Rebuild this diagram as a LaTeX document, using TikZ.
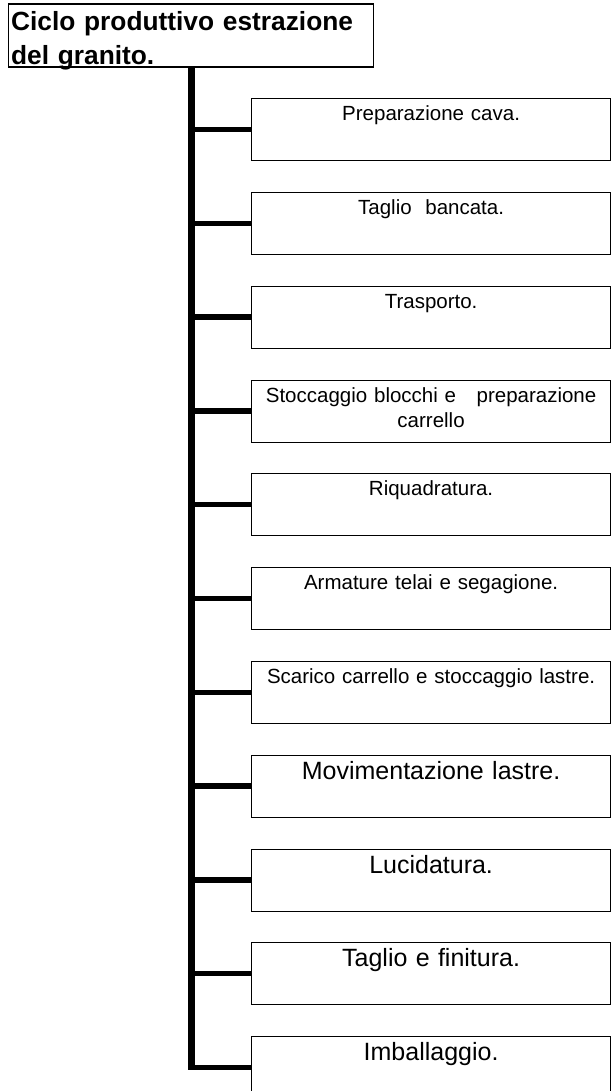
\documentclass[tikz,border=0pt]{standalone}
\usepackage{fontspec}
\setmainfont{Liberation Sans}

\begin{document}
\begin{tikzpicture}[x=1pt,y=-1pt,
  titolo/.style={draw,line width=1.2pt,anchor=north west,inner xsep=2.5pt,inner ysep=0pt,
    text width=360pt,align=left,text height=26pt,text depth=37pt,
    font=\bfseries\fontsize{26.3}{34}\selectfont},
  fase/.style={draw,line width=1.2pt,anchor=north west,inner xsep=2pt,inner ysep=0pt,
    text width=355pt,align=center,text height=22pt,text depth=40pt,
    font=\fontsize{20.5}{25}\selectfont},
  fasegrande/.style={fase,text height=24pt,text depth=38pt,font=\fontsize{25}{30}\selectfont},
  tronco/.style={line width=7pt},
  ramo/.style={line width=5.5pt}]
\useasboundingbox (0,0) rectangle (611,1091);

\node[titolo] (ciclo) at (8,3.5) {Ciclo produttivo estrazione\\del granito.};

\node[fase] (prep) at (251,98) {Preparazione cava.};
\node[fase] (taglio) at (251,192) {Taglio\ \ bancata.};
\node[fase] (trasp) at (251,285.5) {Trasporto.};
\node[fase] (stocc) at (251,379.5) {Stoccaggio blocchi e\ \ \ preparazione\\carrello};
\node[fase] (riquad) at (251,473) {Riquadratura.};
\node[fase] (armat) at (251,567) {Armature telai e segagione.};
\node[fase] (scarico) at (251,661) {Scarico carrello e stoccaggio lastre.};
\node[fasegrande] (movim) at (251,754.5) {Movimentazione lastre.};
\node[fasegrande] (lucid) at (251,848.5) {Lucidatura.};
\node[fasegrande] (finit) at (251,942) {Taglio e finitura.};
\node[fasegrande] (imball) at (251,1036) {Imballaggio.};

\draw[tronco] (ciclo.south) -- ([yshift=-2.75pt]ciclo.south |- imball.west);

\draw[ramo] (ciclo.south |- prep.west) -- (prep.west);
\draw[ramo] (ciclo.south |- taglio.west) -- (taglio.west);
\draw[ramo] (ciclo.south |- trasp.west) -- (trasp.west);
\draw[ramo] (ciclo.south |- stocc.west) -- (stocc.west);
\draw[ramo] (ciclo.south |- riquad.west) -- (riquad.west);
\draw[ramo] (ciclo.south |- armat.west) -- (armat.west);
\draw[ramo] (ciclo.south |- scarico.west) -- (scarico.west);
\draw[ramo] (ciclo.south |- movim.west) -- (movim.west);
\draw[ramo] (ciclo.south |- lucid.west) -- (lucid.west);
\draw[ramo] (ciclo.south |- finit.west) -- (finit.west);
\draw[ramo] (ciclo.south |- imball.west) -- (imball.west);

\end{tikzpicture}
\end{document}
